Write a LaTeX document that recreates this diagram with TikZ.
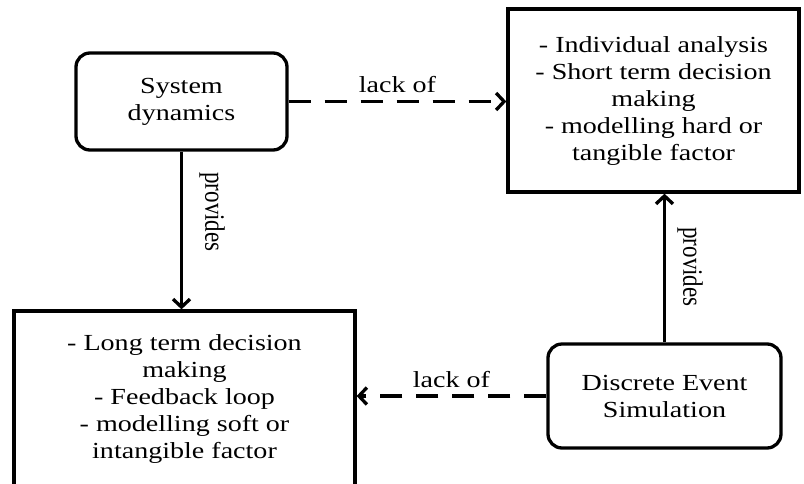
\documentclass[tikz,border=0pt]{standalone}
\usepackage{fontspec}
\setmainfont{Liberation Serif}[FakeStretch=1.22]
\newfontfamily\plainserif{Liberation Serif}
\usetikzlibrary{arrows.meta}
\begin{document}
\begin{tikzpicture}[x=1pt,y=-1pt,
  box/.style={draw, line width=3.3pt, align=center, inner sep=0pt, font=\fontsize{23}{27}\selectfont},
  roundbox/.style={box, rounded corners=14pt},
  arr/.style={line width=3.3pt, -{Straight Barb[length=8pt,width=17pt,line width=3.3pt]}},
  dasharr/.style={arr, dash pattern=on 22pt off 14pt},
  lbl/.style={font=\fontsize{23}{27}\selectfont, inner sep=0pt},
  vlbl/.style={font=\plainserif\fontsize{23}{27}\selectfont, inner sep=0pt, rotate=-90}]
\useasboundingbox (0,0) rectangle (804,483);
\node[roundbox, minimum width=211pt, minimum height=97pt] (sd) at (181.5,101.5) {System\\dynamics};
\node[box, minimum width=291pt, minimum height=183pt] (tr) at (653.5,100.5) {- Individual analysis\\- Short term decision\\making\\- modelling hard or\\tangible factor};
\node[box, minimum width=341pt, minimum height=176pt] (bl) at (184.5,399) {- Long term decision\\making\\- Feedback loop\\- modelling soft or\\intangible factor};
\node[roundbox, minimum width=233pt, minimum height=104pt] (des) at (664.5,396) {Discrete Event\\Simulation};
\draw[arr] (sd.south) -- (sd.south |- bl.north);
\draw[arr] (des.north) -- (des.north |- tr.south);
\draw[dasharr] (sd.east) -- (sd.east -| tr.west) node[lbl, pos=0.5, above=7pt] (l1) {lack of};
\draw[dasharr] (des.west) -- (des.west -| bl.east) node[lbl, pos=0.5, above=7pt] (l2) {lack of};
\node[vlbl] (p1) at (212,212) {\scalebox{1}[1.22]{provides}};
\node[vlbl] (p2) at (690,267) {\scalebox{1}[1.22]{provides}};
\end{tikzpicture}
\end{document}
